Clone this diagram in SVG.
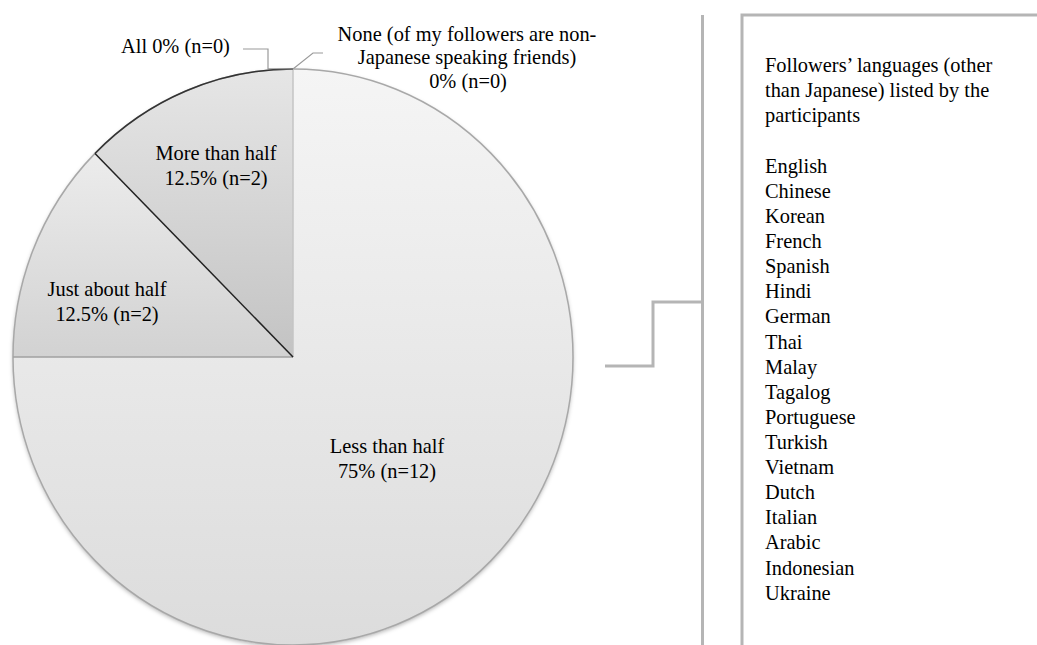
<svg xmlns="http://www.w3.org/2000/svg" width="1037" height="645" viewBox="0 0 1037 645">
  <style>
    text { font-family: "Liberation Serif", "Times New Roman", serif; font-size: 20.4px; fill: #000; }
    .mid { text-anchor: middle; }
    .leader { fill: none; stroke: #9a9a9a; stroke-width: 1.2; }
    .frame { fill: none; stroke: #b5b5b5; stroke-width: 3; }
  </style>
  <defs>
    <linearGradient id="gLess" x1="0" y1="0" x2="0" y2="1">
      <stop offset="0" stop-color="#f5f5f5"/>
      <stop offset="1" stop-color="#dcdcdc"/>
    </linearGradient>
    <linearGradient id="gJust" x1="0" y1="0" x2="0" y2="1">
      <stop offset="0" stop-color="#ececec"/>
      <stop offset="1" stop-color="#d2d2d2"/>
    </linearGradient>
    <linearGradient id="gMore" x1="0" y1="0" x2="0" y2="1">
      <stop offset="0" stop-color="#e6e6e6"/>
      <stop offset="1" stop-color="#c3c3c3"/>
    </linearGradient>
    <filter id="shadow" x="-10%" y="-10%" width="120%" height="120%">
      <feDropShadow dx="0" dy="2" stdDeviation="2" flood-color="#000" flood-opacity="0.3"/>
    </filter>
  </defs>
  <rect width="1037" height="645" fill="#fff"/>

  <g id="pie" filter="url(#shadow)">
    <g id="slice-less">
      <path d="M293,357 L293,69 A280,288 0 1 1 13,357 Z" fill="url(#gLess)"/>
    </g>
    <g id="slice-just">
      <path d="M293,357 L13,357 A280,288 0 0 1 95,153.4 Z" fill="url(#gJust)"/>
    </g>
    <g id="slice-more">
      <path d="M293,357 L95,153.4 A280,288 0 0 1 293,69 Z" fill="url(#gMore)"/>
    </g>
  </g>
  <g id="pie-edges" fill="none">
    <ellipse cx="293" cy="357" rx="280" ry="288" stroke="#a8a8a8" stroke-width="1.5"/>
    <line x1="293" y1="69" x2="293" y2="357" stroke="#c4c4c4" stroke-width="1.5"/>
    <line x1="13" y1="357" x2="293" y2="357" stroke="#a0a0a0" stroke-width="1.5"/>
    <path d="M95,153.4 A280,288 0 0 1 293,69" stroke="#333" stroke-width="1.5"/>
    <line x1="95" y1="153.4" x2="293" y2="357" stroke="#222" stroke-width="1.5"/>
  </g>

  <g id="label-all">
    <text x="121" y="53">All 0% (n=0)</text>
  </g>
  <g id="label-none">
    <text class="mid" x="467" y="41">None (of my followers are non-</text>
    <text class="mid" x="467" y="64">Japanese speaking friends)</text>
    <text class="mid" x="468" y="88">0% (n=0)</text>
  </g>
  <g id="label-more">
    <text class="mid" x="216" y="160">More than half</text>
    <text class="mid" x="216" y="185">12.5% (n=2)</text>
  </g>
  <g id="label-just">
    <text class="mid" x="107" y="296">Just about half</text>
    <text class="mid" x="107" y="321">12.5% (n=2)</text>
  </g>
  <g id="label-less">
    <text class="mid" x="387" y="453">Less than half</text>
    <text class="mid" x="387" y="478">75% (n=12)</text>
  </g>

  <g id="languages-box">
    <path class="frame" d="M742,645 V15 H1037"/>
    <text x="765" y="72">Followers’ languages (other</text>
    <text x="765" y="97">than Japanese) listed by the</text>
    <text x="765" y="122">participants</text>
    <text x="765" y="173">English</text>
    <text x="765" y="198">Chinese</text>
    <text x="765" y="223">Korean</text>
    <text x="765" y="248">French</text>
    <text x="765" y="273">Spanish</text>
    <text x="765" y="298">Hindi</text>
    <text x="765" y="323">German</text>
    <text x="765" y="349">Thai</text>
    <text x="765" y="374">Malay</text>
    <text x="765" y="399">Tagalog</text>
    <text x="765" y="424">Portuguese</text>
    <text x="765" y="449">Turkish</text>
    <text x="765" y="474">Vietnam</text>
    <text x="765" y="499">Dutch</text>
    <text x="765" y="524">Italian</text>
    <text x="765" y="549">Arabic</text>
    <text x="765" y="575">Indonesian</text>
    <text x="765" y="600">Ukraine</text>
  </g>

  <g id="connectors">
    <polyline class="leader" points="243,49 268,49 268,68.5 293,69"/>
    <polyline class="leader" points="293,69 313,53 323,53"/>
    <line class="frame" x1="702.5" y1="15" x2="702.5" y2="645"/>
    <polyline class="frame" points="605,366 653,366 653,302 702,302"/>
  </g>
</svg>
